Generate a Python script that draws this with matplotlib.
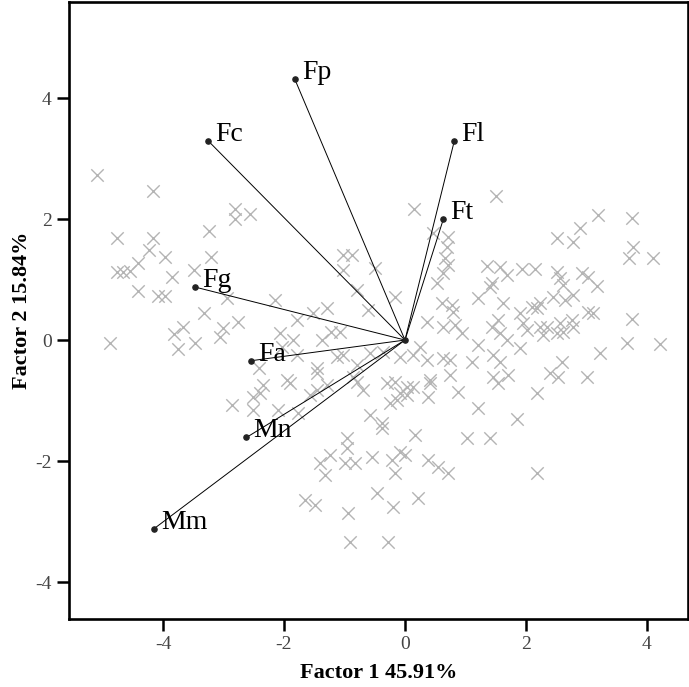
import matplotlib
matplotlib.use("Agg")
import matplotlib.pyplot as plt

plt.rcParams['font.family'] = ['Liberation Serif', 'DejaVu Serif']
plt.rcParams['axes.unicode_minus'] = False

# factor scores (Factor 1, Factor 2)
score_f1 = [
    -5.09, -4.17, -2.81, -2.81, -2.56, -4.76, -4.17, -4.23, -3.24, -3.97,
    -4.41, -4.76, -4.66, -4.55, -3.21, -3.49, -3.85, -4.41, -4.08, -3.97,
    -2.94, -3.32, -3.67, -3.82, -3.01, -3.06, -2.76, -4.88, -3.75, -3.47,
    -2.41, -2.15,
    0.15, -1.02, -0.88, -1.02, -0.50, -0.79, -0.17, -0.61, -1.52, -1.29,
    -1.79, -2.07, -1.22, -1.07, -1.85, -1.37, -2.03, -1.79, -1.12, -1.02,
    -0.58, -0.36, -0.08, -1.45, -1.45, -0.79, -2.35, -2.40, -1.95, -1.90,
    -1.29, -0.86, -0.79, -0.69, -0.30, -0.17, -0.08, 0.13,
    1.50, 3.19, 3.75, 2.89, 2.51, 2.78, 0.46, 0.71, 0.69, 0.66,
    0.71, 3.77, 3.70, 4.10, 1.36, 1.57, 1.69, 1.93, 2.15, 2.51,
    2.56, 2.93, 3.02, 3.17, 0.63, 0.53, 1.44, 1.40, 1.21, 2.61,
    2.78, 2.64, 0.61, 0.78, 0.79, 1.62, 2.23, 2.18, 2.10, 2.45,
    0.36, 0.63, 0.83, 0.94, 1.54, 1.44, 1.57, 1.90, 1.95, 2.02,
    2.23, 2.35, 2.28, 2.56, 2.51, 2.61, 2.76, 2.78, 3.02, 3.11,
    3.75, 1.69, 1.90, 1.21, 0.25, 0.13, 0.36, 3.67, 4.21, 3.22,
    0.63, 0.74, 1.11, 1.45, 1.57, 1.70, 1.45, 1.54, 2.60, 2.40,
    2.53, 3.01, 0.03, 0.41, 0.38, 0.74, 0.88, 2.18, 1.21, 1.85,
    0.17, 1.02, 1.40,
    -2.86, -2.51, -2.51, -2.10, -1.77, -1.57, -1.45, 0.03, -0.13, -0.25,
    0.41, -0.58, -0.38, -0.38, -0.96, -0.96, -1.24, -1.40, -1.32, -0.99,
    -0.83, -0.55, -0.21, -0.08, 0.00, -0.17, 0.38, 0.55, 0.71, -1.65,
    -1.49, -0.94, -0.46, -0.20, 0.21, -0.91, -0.28, 2.18,
]
score_f2 = [
    2.73, 2.46, 2.17, 2.00, 2.08, 1.69, 1.69, 1.49, 1.80, 1.37,
    1.27, 1.12, 1.12, 1.14, 1.37, 1.16, 1.04, 0.81, 0.73, 0.73,
    0.69, 0.45, 0.21, 0.10, 0.20, 0.05, 0.30, -0.05, -0.15, -0.05,
    -0.46, 0.66,
    2.17, 1.40, 1.40, 1.16, 1.19, 0.83, 0.71, 0.50, 0.45, 0.53,
    0.33, 0.12, 0.13, 0.13, 0.00, 0.00, -0.12, -0.25, -0.28, -0.25,
    -0.21, -0.20, -0.28, -0.46, -0.55, -0.41, -0.74, -0.88, -0.66, -0.71,
    -0.74, -0.61, -0.69, -0.83, -0.71, -0.69, -0.88, -0.78,
    2.38, 2.07, 2.02, 1.85, 1.69, 1.62, 1.77, 1.70, 1.54, 1.36,
    1.24, 1.54, 1.36, 1.36, 1.22, 1.21, 1.07, 1.17, 1.17, 1.12,
    1.02, 1.11, 1.04, 0.89, 1.11, 0.94, 0.94, 0.88, 0.69, 0.91,
    0.74, 0.66, 0.61, 0.58, 0.46, 0.61, 0.61, 0.53, 0.55, 0.71,
    0.30, 0.21, 0.25, 0.12, 0.33, 0.21, 0.12, 0.45, 0.28, 0.17,
    0.21, 0.21, 0.08, 0.28, 0.12, 0.13, 0.33, 0.21, 0.46, 0.45,
    0.35, 0.00, -0.13, -0.08, -0.12, -0.25, -0.33, -0.05, -0.07, -0.21,
    -0.30, -0.33, -0.36, -0.25, -0.36, -0.58, -0.61, -0.71, -0.36, -0.55,
    -0.61, -0.61, -0.78, -0.66, -0.94, -0.58, -0.86, -0.88, -1.12, -1.31,
    -1.57, -1.62, -1.62,
    -1.07, -0.94, -1.16, -1.16, -1.21, -0.91, -0.83, -0.91, -0.99, -1.04,
    -0.71, -1.24, -1.37, -1.45, -1.62, -1.79, -1.90, -2.03, -2.23, -2.03,
    -2.03, -1.93, -1.98, -1.85, -1.90, -2.20, -1.98, -2.10, -2.20, -2.64,
    -2.73, -2.86, -2.53, -2.76, -2.61, -3.34, -3.34, -2.20,
]

# variable loadings
var_names = ['Fp', 'Fc', 'Fl', 'Ft', 'Fg', 'Fa', 'Mn', 'Mm']
load_f1 = [-1.82, -3.25, 0.815, 0.633, -3.47, -2.545, -2.62, -4.15]
load_f2 = [4.31, 3.29, 3.29, 1.995, 0.876, -0.342, -1.61, -3.12]

fig = plt.figure(figsize=(6.89, 6.87), dpi=100)
ax = fig.add_axes([0.1001, 0.0997, 0.898, 0.898])

ax.scatter(score_f1, score_f2, marker='x', s=80, color='#b4b4b4',
           linewidths=1.0, zorder=1)

for name, a, b in zip(var_names, load_f1, load_f2):
    ax.plot([0, a], [0, b], color='black', lw=0.7, zorder=2)
    ax.annotate(name, (a, b), xytext=(5, 0), textcoords='offset points',
                fontsize=20, va='baseline', ha='left', zorder=4)
ax.scatter(load_f1, load_f2, s=14, color='#222222', zorder=3)
ax.scatter([0], [0], s=14, color='#222222', zorder=3)

ax.set_xlim(-5.554, 4.673)
ax.set_ylim(-4.603, 5.595)
ax.set_xticks([-4, -2, 0, 2, 4])
ax.set_yticks([-4, -2, 0, 2, 4])

for s in ax.spines.values():
    s.set_linewidth(1.9)
ax.tick_params(direction='out', length=8.5, width=1.8, labelsize=14,
               labelcolor='#444444', pad=4)

ax.set_xlabel('Factor 1 45.91%', fontsize=16, fontweight='bold', labelpad=7)
ax.set_ylabel('Factor 2 15.84%', fontsize=16, fontweight='bold', labelpad=2)

fig.savefig('out.png', dpi=100)
